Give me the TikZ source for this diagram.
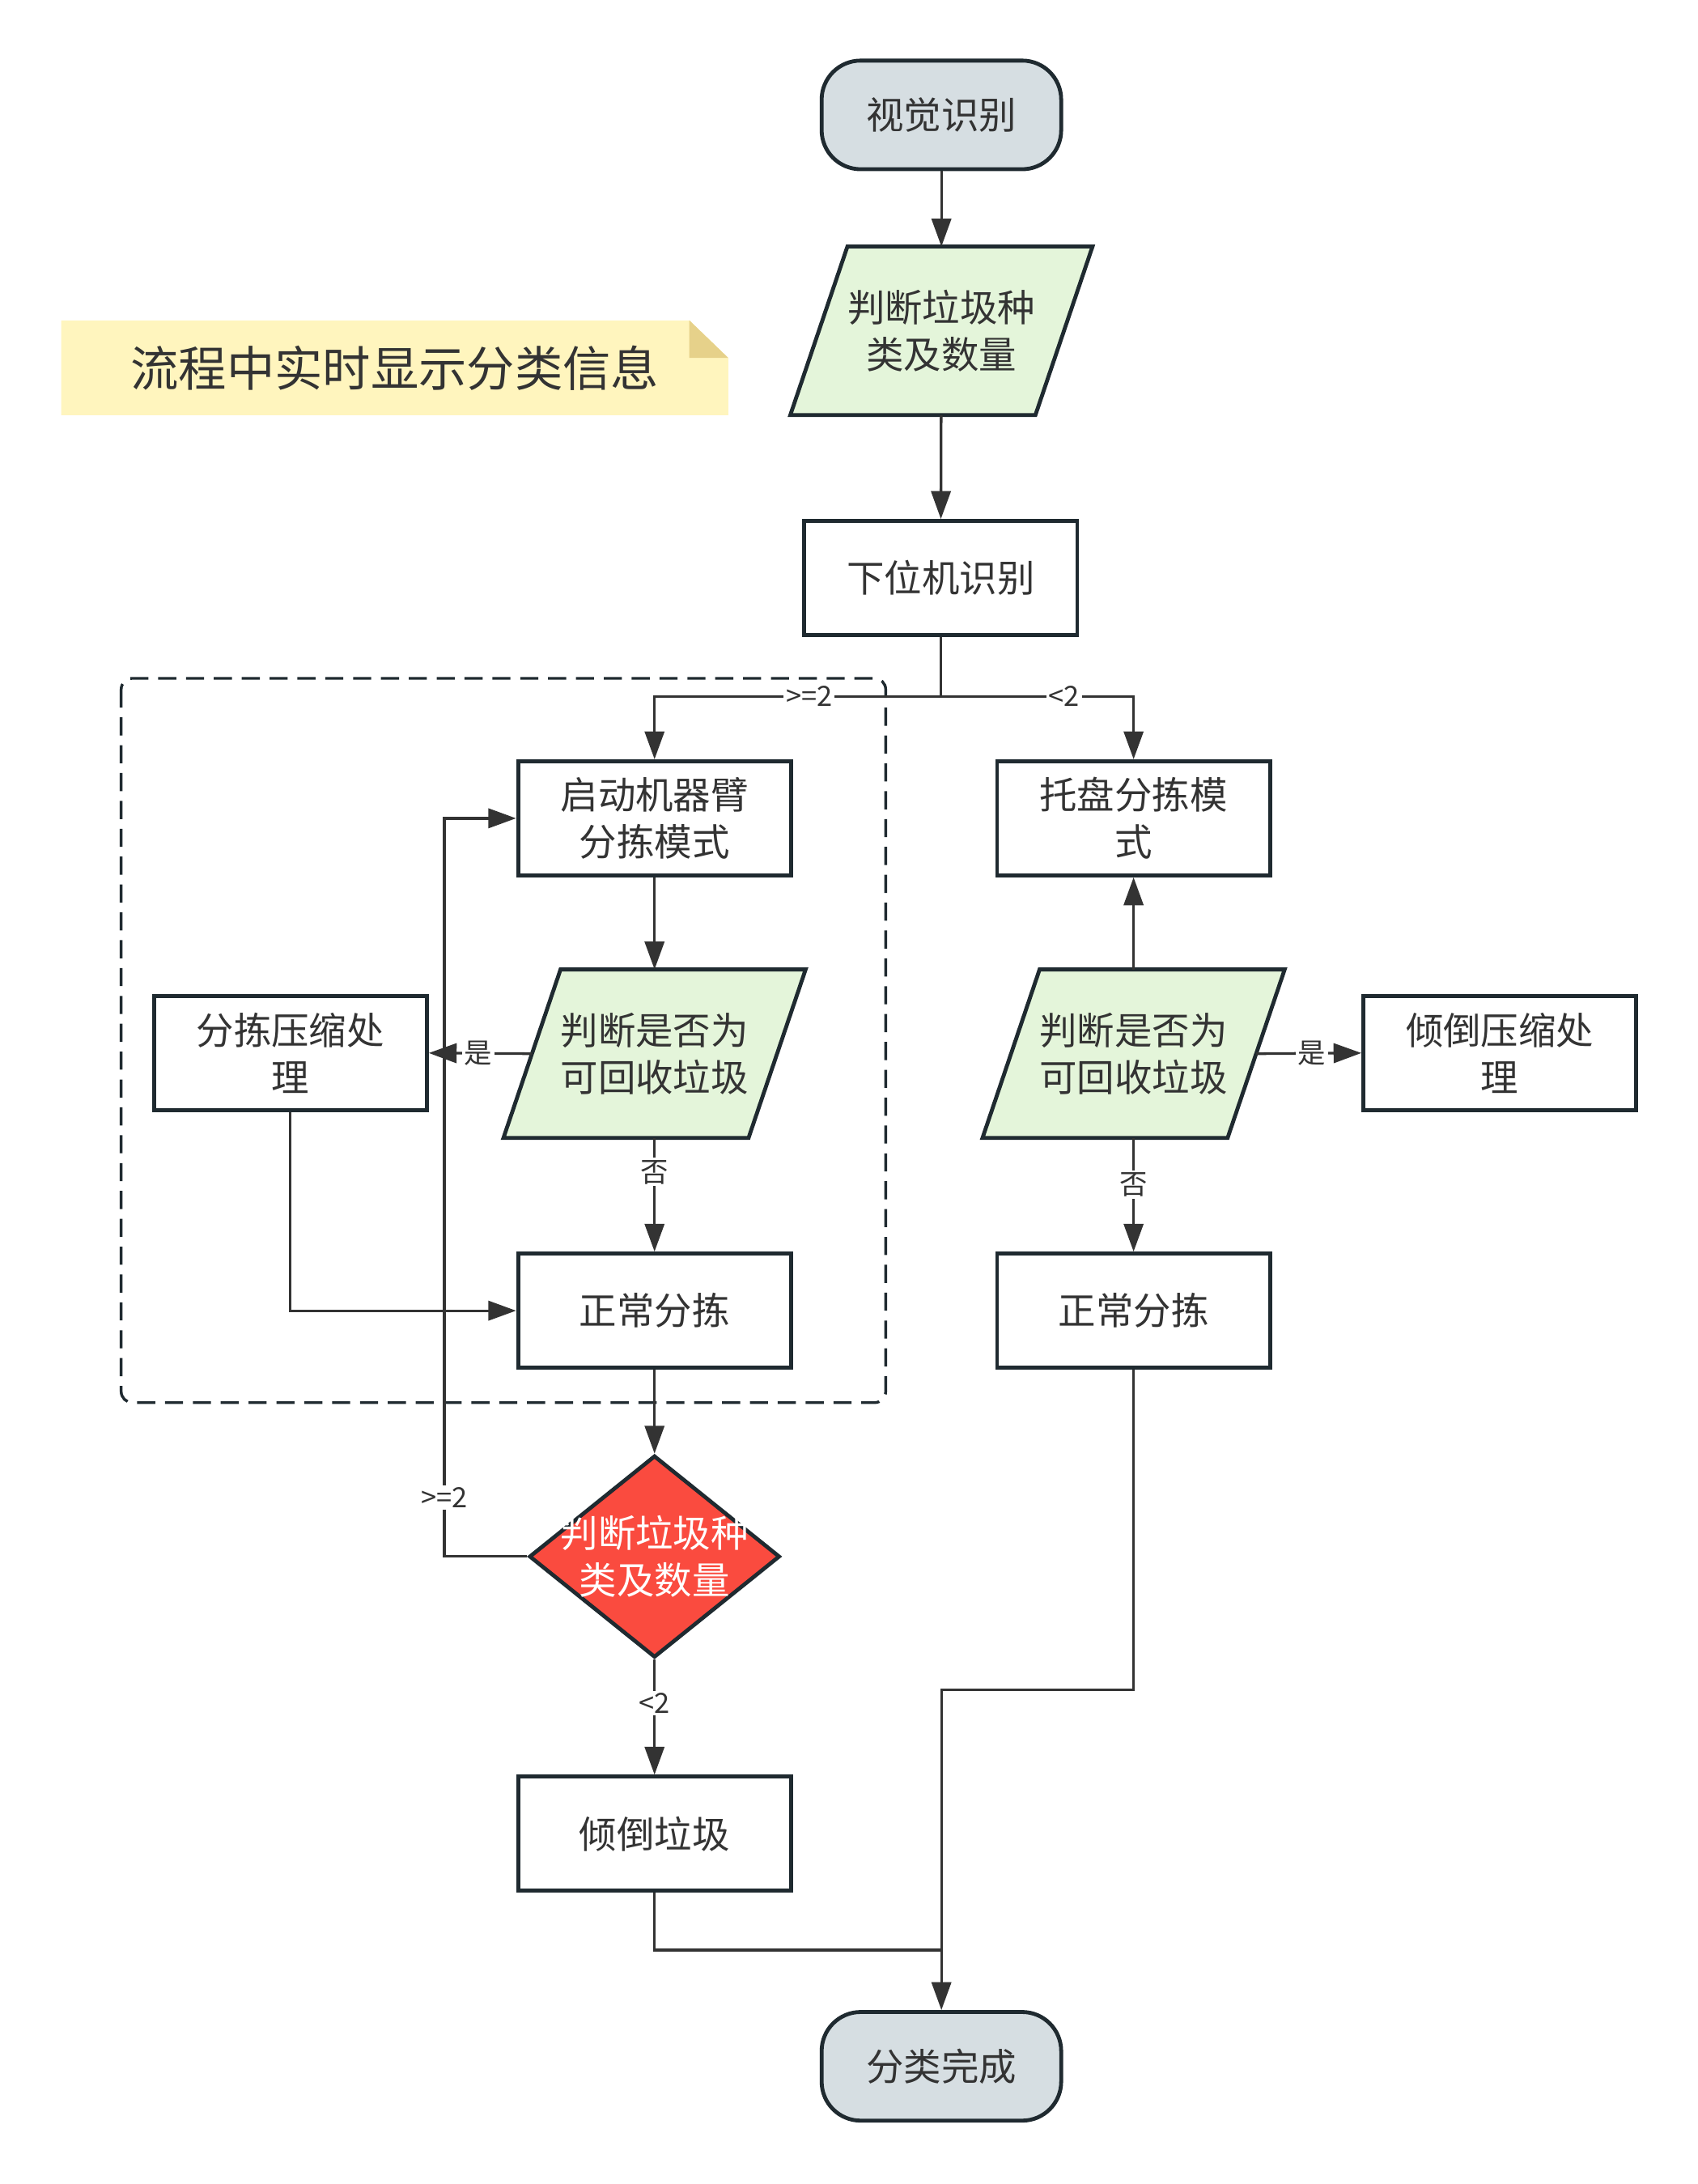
\documentclass[tikz,border=0pt]{standalone}
\usepackage{fontspec}
\setmainfont{Noto Sans CJK SC}
\usetikzlibrary{arrows.meta,shapes.geometric,backgrounds}
\definecolor{ink}{HTML}{333333}
\definecolor{edgec}{HTML}{1F2A30}
\definecolor{termfill}{HTML}{D6DEE2}
\definecolor{parafill}{HTML}{E4F5DA}
\definecolor{decfill}{HTML}{FA4B3F}
\definecolor{notefill}{HTML}{FFF5BE}
\definecolor{notefold}{HTML}{E6D18A}
\newcommand\drawpara[1]{%
  \begin{scope}[on background layer]
    \draw[parashape] ([xshift=20.5pt]#1.north west) -- ([xshift=20.5pt]#1.north east)
      -- ([xshift=-20.5pt]#1.south east) -- ([xshift=-20.5pt]#1.south west) -- cycle;
  \end{scope}}
\begin{document}
\begin{tikzpicture}[x=1pt,y=1pt,
  box/.style={rectangle, draw=edgec, line width=2.8pt, fill=white, minimum width=196pt,
    minimum height=82pt, align=center, text=ink, font=\fontsize{27}{34}\selectfont},
  term/.style={box, fill=termfill, minimum width=172pt, minimum height=78pt, rounded corners=28pt},
  paranode/.style={rectangle, outer sep=0pt, minimum width=176pt, minimum height=121pt,
    align=center, text=ink, font=\fontsize{27}{34}\selectfont},
  parashape/.style={draw=edgec, line width=2.8pt, fill=parafill, line join=miter},
  conn/.style={draw=ink, line width=1.9pt},
  arr/.style={conn, -{Triangle[length=20pt,width=14pt]}},
  lbl/.style={fill=white, text=ink, inner sep=1.5pt, font=\fontsize{20}{23}\selectfont},
  grp/.style={draw=edgec, line width=2pt, dash pattern=on 13pt off 7pt, rounded corners=8pt},
]
\useasboundingbox (0,0) rectangle (1219,-1568);

% note
\fill[notefill] (44,-230) -- (495,-230) -- (523,-257) -- (523,-298) -- (44,-298) -- cycle;
\fill[notefold] (495,-230) -- (523,-257) -- (495,-257) -- cycle;
\node[text=ink, font=\fontsize{34.5}{40}\selectfont] (notetext) at (283.5,-264) {流程中实时显示分类信息};

% group frame
\begin{scope}[on background layer]
  \draw[grp] (87,-487) rectangle (636,-1007);
\end{scope}

% nodes
\node[term] (start) at (676,-82.5) {视觉识别};
\node[paranode] (p1) at (676,-237.5) {判断垃圾种\\类及数量};
\drawpara{p1}
\node[box] (low) at (675.5,-415) {下位机识别};
\node[box] (arm) at (470,-587.5) {启动机器臂\\分拣模式};
\node[box] (tray) at (814,-587.5) {托盘分拣模\\式};
\node[paranode] (p2) at (470,-756.5) {判断是否为\\可回收垃圾};
\drawpara{p2}
\node[paranode] (p3) at (814,-756.5) {判断是否为\\可回收垃圾};
\drawpara{p3}
\node[box] (compL) at (208.5,-756) {分拣压缩处\\理};
\node[box] (compR) at (1077,-756) {倾倒压缩处\\理};
\node[box] (normL) at (470,-941) {正常分拣};
\node[box] (normR) at (814,-941) {正常分拣};
\node[diamond, draw=edgec, line width=2.8pt, fill=decfill, inner sep=0pt,
  minimum width=180pt, minimum height=145pt] (dec) at (470,-1117.5) {};
\node[text=white, align=center, font=\fontsize{27}{34}\selectfont] (dectext) at (dec) {判断垃圾种\\类及数量};
\node[box] (dump) at (470,-1316.5) {倾倒垃圾};
\node[term] (endt) at (676,-1483.5) {分类完成};

% connectors
\coordinate (split) at (675.5,-500);
\coordinate (loop) at (319,-1117.5);
\coordinate (m1) at (676,-1213);
\coordinate (m2) at (676,-1400);

\draw[arr] (start) -- (p1);
\draw[arr] (p1) -- (low);
\draw[conn] (low) -- (split);
\draw[arr] (split) -| node[lbl,pos=0.23]{>=2} (arm.north);
\draw[arr] (split) -| node[lbl,pos=0.32]{<2} (tray.north);

\draw[arr] (arm) -- (p2);
\draw[arr] (p2.west) -- node[lbl,pos=0.52]{是} (compL.east);
\draw[arr] (p2.south) -- node[lbl,pos=0.3]{否} (normL.north);
\draw[arr] (compL.south) |- (normL.west);
\draw[arr] (normL) -- (dec);
\draw[arr] (dec.west) -- (loop) |- node[lbl,pos=0.04]{>=2} (arm.west);
\draw[arr] (dec.south) -- node[lbl,pos=0.38]{<2} (dump.north);
\draw[conn] (dump.south) |- (m2);
\draw[arr] (normR.south) |- (m1) -- (endt.north);

\draw[arr] (p3.north) -- (tray.south);
\draw[arr] (p3.east) -- node[lbl,pos=0.53]{是} (compR.west);
\draw[arr] (p3.south) -- node[lbl,pos=0.41]{否} (normR.north);
\end{tikzpicture}
\end{document}
